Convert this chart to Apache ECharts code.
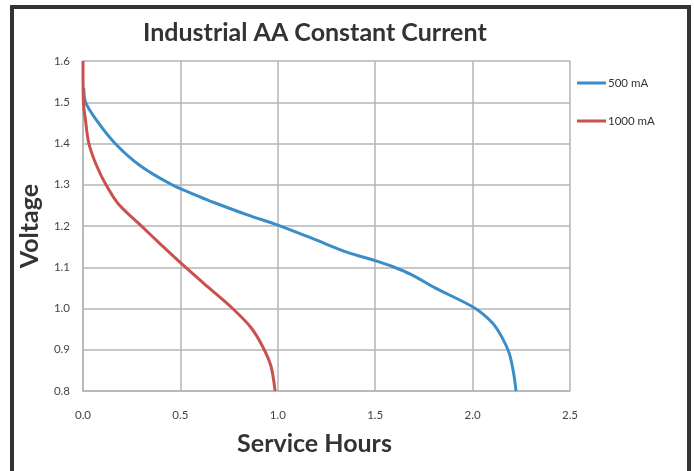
<!DOCTYPE html>
<html>
<head>
<meta charset="utf-8">
<script src="https://cdn.jsdelivr.net/npm/echarts@6/dist/echarts.min.js"></script>
<style>
html,body{margin:0;padding:0;background:#fff;}
#frame{position:absolute;left:10px;top:5px;width:681px;height:480px;border-left:4px solid #333;border-top:4px solid #333;border-right:4px solid #333;box-sizing:border-box;}
#chart{position:absolute;left:0;top:0;width:694px;height:471px;}
</style>
</head>
<body>
<div id="frame"></div>
<div id="chart"></div>
<script>
const titleText = 'Industrial AA Constant Current';
const xName = 'Service Hours';
const yName = 'Voltage';
const seriesNames = ['500 mA', '1000 mA'];
const blueHours = [0.004, 0.013, 0.07, 0.165, 0.294, 0.457, 0.594, 0.672, 0.844, 1.0, 1.186, 1.358, 1.5, 1.598, 1.686, 1.807, 2.008, 2.10, 2.151, 2.189, 2.211, 2.223];
const blueVolts = [1.535, 1.50, 1.456, 1.40, 1.346, 1.30, 1.272, 1.257, 1.227, 1.202, 1.168, 1.136, 1.116, 1.10, 1.082, 1.05, 1.002, 0.966, 0.93, 0.89, 0.842, 0.80];
const redHours = [0, 0.002, 0.013, 0.03, 0.07, 0.118, 0.184, 0.302, 0.40, 0.5, 0.639, 0.768, 0.862, 0.922, 0.965, 0.986];
const redVolts = [1.60, 1.50, 1.456, 1.40, 1.346, 1.30, 1.252, 1.199, 1.155, 1.111, 1.053, 1.0, 0.954, 0.908, 0.86, 0.80];

const pair = (xs, ys) => xs.map((x, i) => [x, ys[i]]);
const chart = echarts.init(document.getElementById('chart'));
const font = 'Lato';
chart.setOption({
  animation: false,
  title: {
    text: titleText, left: 138, top: 15,
    textStyle: {fontFamily: font, fontWeight: 'bold', fontSize: 25, color: '#333'}
  },
  legend: {
    orient: 'vertical', left: 572, top: 72, itemGap: 26,
    icon: 'rect', itemWidth: 29, itemHeight: 3,
    textStyle: {fontFamily: font, fontSize: 11.5, color: '#333', padding: [0,0,0,-3]},
    data: seriesNames
  },
  grid: {left: 83, right: 124, top: 61, bottom: 80},
  xAxis: {
    type: 'value', min: 0, max: 2.5, interval: 0.5,
    name: xName, nameLocation: 'middle', nameGap: 40,
    nameTextStyle: {fontFamily: font, fontWeight: 'bold', fontSize: 25, color: '#333', padding: [0, 24, 0, 0]},
    axisLine: {lineStyle: {color: '#b5b5b5', width: 1.5}},
    axisTick: {show: false},
    axisLabel: {margin: 18, fontFamily: font, fontSize: 11.5, color: '#444', formatter: v => v.toFixed(1)},
    splitLine: {show: true, lineStyle: {color: '#b5b5b5', width: 1.5}}
  },
  yAxis: {
    type: 'value', min: 0.8, max: 1.6, interval: 0.1,
    name: yName, nameLocation: 'middle', nameGap: 41, nameRotate: 90,
    nameTextStyle: {fontFamily: font, fontWeight: 'bold', fontSize: 25, color: '#333'},
    axisLine: {show: true, lineStyle: {color: '#b5b5b5', width: 1.5}},
    axisTick: {show: false},
    axisLabel: {margin: 13, fontFamily: font, fontSize: 11.5, color: '#444', formatter: v => v.toFixed(1)},
    splitLine: {show: true, lineStyle: {color: '#b5b5b5', width: 1.5}}
  },
  series: [
    {name: seriesNames[0], type: 'line', smooth: 0.3, showSymbol: false, data: pair(blueHours, blueVolts),
     lineStyle: {color: '#3b8dc8', width: 3}, itemStyle: {color: '#3b8dc8'}},
    {name: seriesNames[1], type: 'line', smooth: 0.3, showSymbol: false, data: pair(redHours, redVolts),
     lineStyle: {color: '#c9514e', width: 3}, itemStyle: {color: '#c9514e'}}
  ]
});
</script>
</body>
</html>
